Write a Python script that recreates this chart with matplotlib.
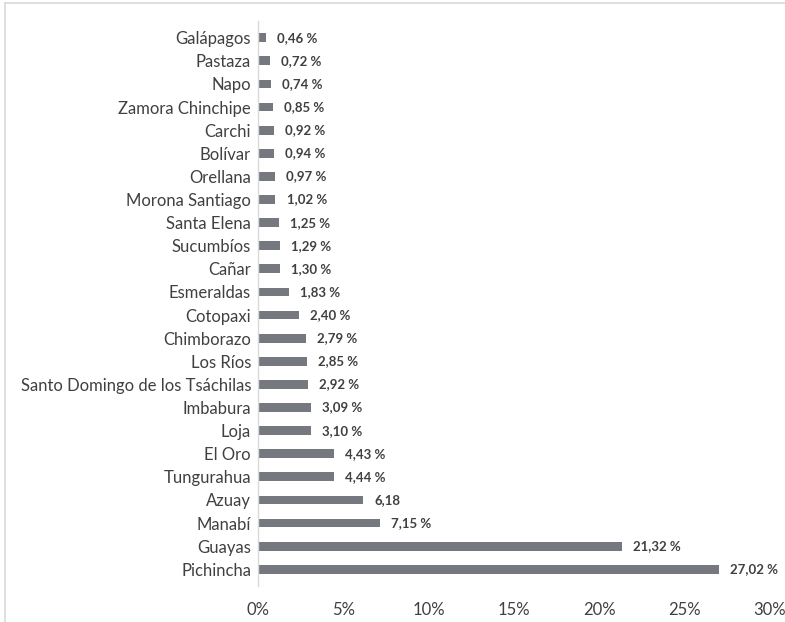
import matplotlib
matplotlib.use("Agg")
import matplotlib.pyplot as plt
from matplotlib.lines import Line2D

provinces = ["Galápagos", "Pastaza", "Napo", "Zamora Chinchipe", "Carchi", "Bolívar",
             "Orellana", "Morona Santiago", "Santa Elena", "Sucumbíos", "Cañar",
             "Esmeraldas", "Cotopaxi", "Chimborazo", "Los Ríos",
             "Santo Domingo de los Tsáchilas", "Imbabura", "Loja", "El Oro",
             "Tungurahua", "Azuay", "Manabí", "Guayas", "Pichincha"]
values = [0.46, 0.72, 0.74, 0.85, 0.92, 0.94, 0.97, 1.02, 1.25, 1.29, 1.30, 1.83,
          2.40, 2.79, 2.85, 2.92, 3.09, 3.10, 4.43, 4.44, 6.18, 7.15, 21.32, 27.02]
value_labels = ["0,46 %", "0,72 %", "0,74 %", "0,85 %", "0,92 %", "0,94 %", "0,97 %",
                "1,02 %", "1,25 %", "1,29 %", "1,30 %", "1,83 %", "2,40 %", "2,79 %",
                "2,85 %", "2,92 %", "3,09 %", "3,10 %", "4,43 %", "4,44 %", "6,18",
                "7,15 %", "21,32 %", "27,02 %"]
xticks = [0, 5, 10, 15, 20, 25, 30]
xtick_labels = ["0%", "5%", "10%", "15%", "20%", "25%", "30%"]

plt.rcParams['font.family'] = ['Lato', 'DejaVu Sans']

fig = plt.figure(figsize=(7.85, 6.22), dpi=100)
ax = fig.add_axes([258/785, 1-585.5/622, (770-258)/785, (585.5-21.5)/622])

n = len(provinces)
ypos = [n - 1 - i for i in range(n)]
bar_color = "#767880"
text_color = "#404040"
ax.barh(ypos, values, height=0.38, color=bar_color)
for y, v, lab in zip(ypos, values, value_labels):
    ax.text(v + 0.65, y, lab, va="center", ha="left", fontsize=9.5,
            fontweight="bold", color=text_color)

ax.set_xlim(0, 30)
ax.set_ylim(-0.7, n - 1 + 0.7)
ax.set_yticks(ypos)
ax.set_yticklabels(provinces, fontsize=12, color=text_color)
ax.set_xticks(xticks)
ax.set_xticklabels(xtick_labels, fontsize=12, color=text_color)
ax.tick_params(axis="both", length=0)
ax.tick_params(axis="x", pad=12)
ax.tick_params(axis="y", pad=5)
for s in ["top", "right", "bottom"]:
    ax.spines[s].set_visible(False)
ax.spines["left"].set_color("#d9d9d9")
ax.spines["left"].set_linewidth(1.0)

# outer frame (top and left edges)
fig.add_artist(Line2D([5/785, 1], [1-3/622, 1-3/622], color="#d9d9d9", lw=1.2,
                      transform=fig.transFigure))
fig.add_artist(Line2D([5/785, 5/785], [0, 1-3/622], color="#d9d9d9", lw=1.2,
                      transform=fig.transFigure))

fig.savefig("out.png", dpi=100, facecolor="white")
